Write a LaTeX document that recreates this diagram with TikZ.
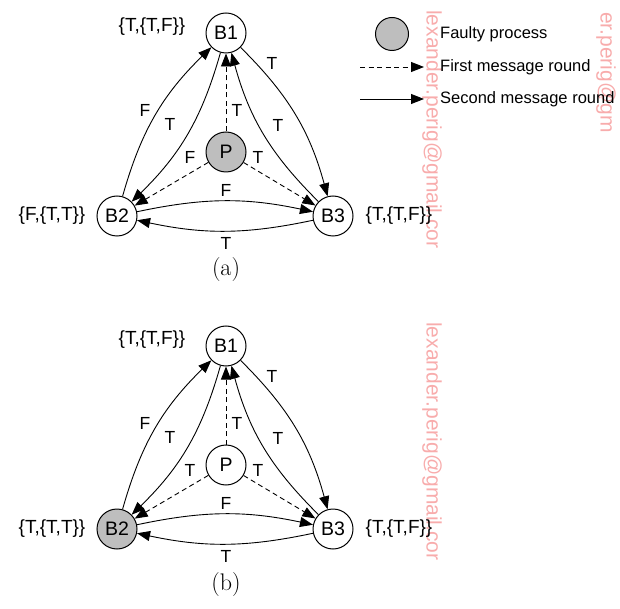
\documentclass[tikz,border=0pt]{standalone}
\usepackage{fontspec}
\setsansfont{Liberation Sans}
\usetikzlibrary{arrows.meta}
\definecolor{faulty}{RGB}{190,190,190}
\definecolor{wmpink}{RGB}{248,172,172}
\begin{document}
\begin{tikzpicture}[x=1pt,y=1pt,
  proc/.style={circle,draw,line width=1pt,minimum size=40pt,inner sep=0pt,font=\sffamily\fontsize{19.5}{19.5}\selectfont},
  faultyproc/.style={proc,fill=faulty},
  lbl/.style={font=\sffamily\fontsize{17.5}{17.5}\selectfont,inner sep=0pt},
  setlbl/.style={font=\sffamily\fontsize{19}{19}\selectfont,inner sep=0pt},
  captxt/.style={font=\fontsize{24}{24}\selectfont,inner sep=0pt},
  legtxt/.style={font=\sffamily\fontsize{16.5}{16.5}\selectfont,inner sep=0pt,anchor=west},
  msg/.style={line width=0.9pt,-{Triangle[length=13pt,width=10pt]}},
  first/.style={msg,dash pattern=on 5pt off 3.5pt},
  second/.style={msg,bend left=15},
  wm/.style={text=wmpink,font=\sffamily\fontsize{21}{21}\selectfont,rotate=-90,anchor=west,inner sep=0pt}
]
\useasboundingbox (0,0) rectangle (620,608);

% watermarks
\node[wm] (wm1) at (432,598) {lexander.perig@gmail.cor};
\node[wm] (wm2) at (432,286) {lexander.perig@gmail.cor};
\node[wm] (wm3) at (606,596) {er.perig@gm};

% ---------------- panel (a)
\node[proc] (B1a) at (226,575) {B1};
\node[faultyproc] (Pa) at (226,456) {P};
\node[proc] (B2a) at (117,392) {B2};
\node[proc] (B3a) at (333,392) {B3};

\node[setlbl] (s1a) at (152,581) {\{T,\{T,F\}\}};
\node[setlbl] (s2a) at (52,392) {\{F,\{T,T\}\}};
\node[setlbl] (s3a) at (399,392) {\{T,\{T,F\}\}};
\node[captxt] (capa) at (226,338) {(a)};

\draw[first] (Pa) -- (B1a);
\draw[first] (Pa) -- (B2a);
\draw[first] (Pa) -- (B3a);
\draw[second] (B2a) to (B1a);
\draw[second] (B1a) to (B2a);
\draw[second] (B1a) to (B3a);
\draw[second] (B3a) to (B1a);
\draw[second,bend left=12] (B2a) to (B3a);
\draw[second,bend left=12] (B3a) to (B2a);

\node[lbl] (e1a) at (145,498) {F};
\node[lbl] (e2a) at (170,484) {T};
\node[lbl] (e3a) at (237,498) {T};
\node[lbl] (e4a) at (272,545) {T};
\node[lbl] (e5a) at (278,483) {T};
\node[lbl] (e6a) at (190,451) {F};
\node[lbl] (e7a) at (258,451) {T};
\node[lbl] (e8a) at (226,418) {F};
\node[lbl] (e9a) at (226,365) {T};

% ---------------- panel (b)
\node[proc] (B1b) at (226,262) {B1};
\node[proc] (Pb) at (226,143) {P};
\node[faultyproc] (B2b) at (117,79) {B2};
\node[proc] (B3b) at (333,79) {B3};

\node[setlbl] (s1b) at (152,268) {\{T,\{T,F\}\}};
\node[setlbl] (s2b) at (52,79) {\{T,\{T,T\}\}};
\node[setlbl] (s3b) at (399,79) {\{T,\{T,F\}\}};
\node[captxt] (capb) at (226,23) {(b)};

\draw[first] (Pb) -- (B1b);
\draw[first] (Pb) -- (B2b);
\draw[first] (Pb) -- (B3b);
\draw[second] (B2b) to (B1b);
\draw[second] (B1b) to (B2b);
\draw[second] (B1b) to (B3b);
\draw[second] (B3b) to (B1b);
\draw[second,bend left=12] (B2b) to (B3b);
\draw[second,bend left=12] (B3b) to (B2b);

\node[lbl] (e1b) at (145,185) {F};
\node[lbl] (e2b) at (170,171) {T};
\node[lbl] (e3b) at (237,185) {T};
\node[lbl] (e4b) at (272,232) {T};
\node[lbl] (e5b) at (278,170) {T};
\node[lbl] (e6b) at (190,138) {T};
\node[lbl] (e7b) at (258,138) {T};
\node[lbl] (e8b) at (226,105) {F};
\node[lbl] (e9b) at (226,52) {T};

% ---------------- legend
\node[circle,draw,line width=1pt,fill=faulty,minimum size=33pt,inner sep=0pt] (legP) at (392,574) {};
\node[legtxt] (legt1) at (440,574) {Faulty process};
\coordinate (d0) at (360,541);
\coordinate (d1) at (424,541);
\draw[first] (d0) -- (d1);
\node[legtxt] (legt2) at (440,541) {First message round};
\coordinate (s0) at (360,509);
\coordinate (s1) at (424,509);
\draw[msg] (s0) -- (s1);
\node[legtxt] (legt3) at (440,509) {Second message round};
\end{tikzpicture}
\end{document}
